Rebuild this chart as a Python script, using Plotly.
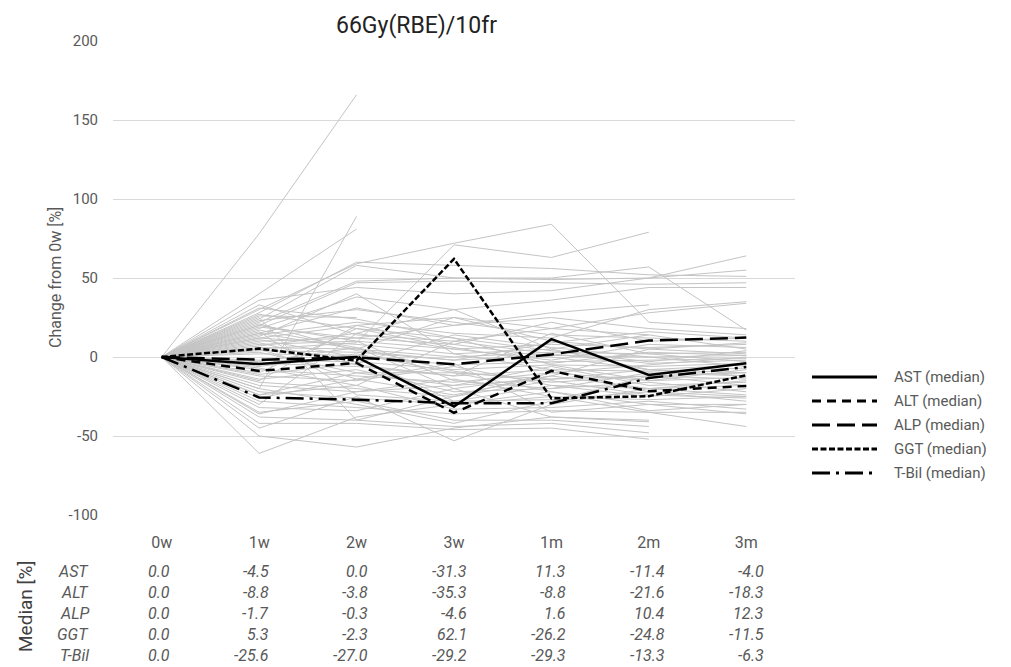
import plotly.graph_objects as go

# ---------------- data ----------------
categories = ["0w", "1w", "2w", "3w", "1m", "2m", "3m"]

median_names = ["AST", "ALT", "ALP", "GGT", "T-Bil"]
AST = [0.0, -4.5, 0.0, -31.3, 11.3, -11.4, -4.0]
ALT = [0.0, -8.8, -3.8, -35.3, -8.8, -21.6, -18.3]
ALP = [0.0, -1.7, -0.3, -4.6, 1.6, 10.4, 12.3]
GGT = [0.0, 5.3, -2.3, 62.1, -26.2, -24.8, -11.5]
TBIL = [0.0, -25.6, -27.0, -29.2, -29.3, -13.3, -6.3]
medians = [AST, ALT, ALP, GGT, TBIL]

# individual patient curves (gray), None = not measured
patients = [
    [0, 78, 166, None, None, None, None],
    [0, -20, 89, None, None, None, None],
    [0, 40, 81, None, None, None, None],
    [0, 30, 59, 72, 84, 22, 18],
    [0, 5, 9, 71, 63, 79, None],
    [0, 28, 60, 58, 56, 52, 51],
    [0, 24, 58, 50, 50, 57, 17],
    [0, 22, 48, 50, 49, 50, 55],
    [0, 20, 47, 48, 47, 46, 47],
    [0, 36, 44, 40, 42, 50, 64],
    [0, 18, 38, 30, 36, 44, 44],
    [0, 15, 31, 20, 28, 33, None],
    [0, 26, 25, None, None, None, None],
    [0, 14, 22, 15, 12, 30, 35],
    [0, 12, 20, 25, 18, 28, 34],
    [0, 33, 14, 10, 18, 14, None],
    [0, 10, 12, 8, 22, 10, 12],
    [0, 8, 10, 5, 8, 6, 8],
    [0, 12, 8, 2, 5, 14, 5],
    [0, 6, 5, 0, 3, 2, 3],
    [0, 4, 3, -2, 1, 0, 1],
    [0, 2, 1, -5, -3, -2, -1],
    [0, -2, -3, -8, -5, -6, -4],
    [0, -4, -6, -12, -8, -9, -7],
    [0, -6, 2, -10, -14, -12, -10],
    [0, -8, -12, -16, -10, -15, -13],
    [0, 3, -10, -18, -6, -18, -16],
    [0, -12, -15, -6, -18, -20, -18],
    [0, -14, -8, -22, -20, -16, -22],
    [0, -16, -20, -25, -15, -24, -26],
    [0, -18, -22, -14, -25, -27, -25],
    [0, 16, -24, -28, -27, -22, -28],
    [0, -22, -26, -30, -22, -30, -30],
    [0, -24, -18, -33, -32, -28, -33],
    [0, -28, -32, -36, -34, -35, -35],
    [0, -32, -34, -20, -38, -40, None],
    [0, -35, -28, -40, -40, -44, None],
    [0, -38, -40, -44, -42, -48, None],
    [0, -42, -42, -46, -45, -52, None],
    [0, -61, -38, -30, -25, -35, -44],
    [0, -50, -57, -45, -38, -41, None],
    [0, -45, -25, -53, -30, -20, -15],
    [0, 25, -40, -25, -10, -5, 0],
    [0, -30, 15, 5, -2, 8, 6],
    [0, 20, 10, -15, -20, -10, -12],
    [0, 15, 5, 25, 10, 5, 2],
    [0, -10, 18, 12, -5, -15, -8],
    [0, 9, -5, -12, 15, 2, -3],
    [0, -3, 6, -20, -12, 5, 9],
    [0, 11, 0, -28, -18, -25, -20],
    [0, -26, -14, -4, -35, -30, -36],
    [0, 7, 15, 30, 5, -8, -5],
    [0, -20, -30, -42, -28, -12, -18],
    [0, 19, 12, 20, 25, 18, 14],
    [0, -7, -18, 10, 2, -4, -2],
    [0, 23, 30, 22, 14, 12, 10],
    [0, -15, 20, 8, 0, -8, -12],
    [0, 13, 40, 2, -8, -22, -25],
    [0, 27, 18, 6, -4, 3, 1],
    [0, 17, 6, -9, -16, -12, -14],
    [0, -11, -4, 14, 6, 0, -6],
    [0, 31, 24, 12, 4, -3, 4],
    [0, -36, -22, -18, -14, -8, -10],
    [0, 5, -14, -24, -12, -20, -24],
    [0, -24, -10, -10, -22, -34, -30],
    [0, 21, 4, -2, 9, 16, 12],
]

y_ticks = [-100, -50, 0, 50, 100, 150, 200]
y_tick_text = ["-100", "-50", "0", "50", "100", "150", "200"]

# ---------------- styles ----------------
OFF = 8                      # page body margin
W, H = 1011 - OFF, 667 - OFF
PL, PR, PT, PB = 113, 795, 41, 515   # plot box in page pixels
L, T = PL - OFF, PT - OFF
R, B = (W + OFF) - PR, (H + OFF) - PB
PW, PH = PR - PL, PB - PT
GRAY = "#c4c4c4"
TXT = "#595959"
FONT = "Roboto, Noto Sans, sans-serif"
dashes = ["solid", "9px,6px", "18px,7px", "6px,2.5px", "18px,6px,3px,6px"]
MED_W = 2.5


def px_x(x):
    return (x - PL) / PW


def px_y(y):
    return (PB - y) / PH


fig = go.Figure()

for row in patients:
    fig.add_trace(go.Scatter(x=categories, y=row, mode="lines",
                             line=dict(color=GRAY, width=1),
                             connectgaps=False, showlegend=False,
                             hoverinfo="skip"))

for name, vals, dash in zip(median_names, medians, dashes):
    fig.add_trace(go.Scatter(x=categories, y=vals, mode="lines",
                             name=f"{name} (median)",
                             line=dict(color="black", width=MED_W, dash=dash),
                             showlegend=False))

annotations = []
shapes = []

# title
annotations.append(dict(text="66Gy(RBE)/10fr", x=px_x(416), y=px_y(10),
                        xref="paper", yref="paper", showarrow=False,
                        xanchor="center", yanchor="top",
                        font=dict(size=23, color="#222222", family=FONT)))
# y axis title
annotations.append(dict(text="Change from 0w [%]", x=px_x(55), y=px_y(278),
                        xref="paper", yref="paper", showarrow=False,
                        xanchor="center", yanchor="middle", textangle=-90,
                        font=dict(size=16, color=TXT, family=FONT)))
# Median [%] label
annotations.append(dict(text="Median [%]", x=px_x(25), y=px_y(606),
                        xref="paper", yref="paper", showarrow=False,
                        xanchor="center", yanchor="middle", textangle=-90,
                        font=dict(size=19, color="#404040", family=FONT)))

# legend (manual)
leg_y = [377, 401, 425, 449, 473]
for name, dash, ly in zip(median_names, dashes, leg_y):
    shapes.append(dict(type="line", xref="paper", yref="paper",
                       x0=px_x(812), x1=px_x(877), y0=px_y(ly), y1=px_y(ly),
                       line=dict(color="black", width=2.8, dash=dash)))
    annotations.append(dict(text=f"{name} (median)", x=px_x(892), y=px_y(ly),
                            xref="paper", yref="paper", showarrow=False,
                            xanchor="left", yanchor="middle",
                            font=dict(size=15, color=TXT, family=FONT)))

# median table
row_y = [571, 592, 613, 634, 655]
for name, vals, ry in zip(median_names, medians, row_y):
    annotations.append(dict(text=f"<i>{name}</i>", x=px_x(91), y=px_y(ry),
                            xref="paper", yref="paper", showarrow=False,
                            xanchor="right", yanchor="middle",
                            font=dict(size=16, color=TXT, family=FONT)))
    for i, (cat, v) in enumerate(zip(categories, vals)):
        annotations.append(dict(text=f"<i>{v:.1f}</i>", x=cat, y=px_y(ry),
                                xref="x", yref="paper", showarrow=False,
                                xanchor="right", yanchor="middle",
                                xshift=10 + i * 1.6,
                                font=dict(size=16, color=TXT, family=FONT)))

fig.update_layout(
    width=W, height=H,
    margin=dict(l=L, r=R, t=T, b=B, pad=0),
    paper_bgcolor="white", plot_bgcolor="white",
    showlegend=False,
    annotations=annotations, shapes=shapes,
    xaxis=dict(type="category", categoryorder="array", categoryarray=categories,
               range=[-0.5, 6.5], showgrid=False, zeroline=False,
               showline=False, ticks="", ticklabelstandoff=16,
               tickfont=dict(size=16, color=TXT, family=FONT)),
    yaxis=dict(range=[-100, 200], tickvals=y_ticks, ticktext=y_tick_text,
               showgrid=True, gridcolor="#d9d9d9", gridwidth=1,
               zeroline=False, showline=False, ticks="",
               ticklabelstandoff=14,
               tickfont=dict(size=15, color=TXT, family=FONT)),
)

fig.write_html("out.html")
